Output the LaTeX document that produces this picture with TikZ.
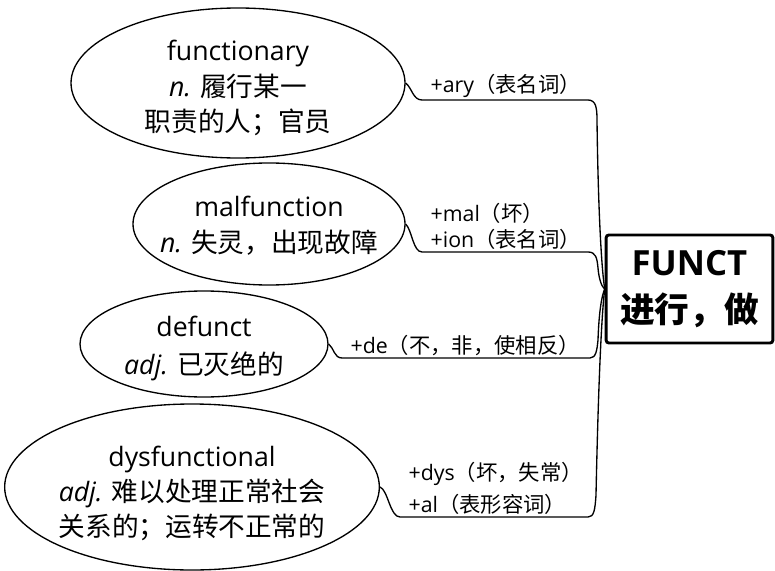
\documentclass[tikz,border=0pt]{standalone}
\usepackage{fontspec}
\setmainfont{Open Sans}
\newfontfamily\cjk{Noto Sans CJK SC}
\usetikzlibrary{shapes.geometric}

\begin{document}
\begin{tikzpicture}[x=0.75pt, y=-0.75pt]
    \tikzstyle{word} = [ellipse, draw, line width=1pt, inner xsep=-20pt, inner ysep=0pt, align=center, font=\fontsize{20}{26.5}\selectfont]
    \tikzstyle{line} = [draw, line width=1pt]
    \tikzstyle{affix} = [align=left, inner sep=1pt, xshift=5pt, font=\fontsize{16}{20}\selectfont]
    \useasboundingbox (0,0) rectangle (775,571);

    \node [rectangle, draw, line width=2.2pt, rounded corners=2pt, minimum width=125pt, minimum height=81pt, align=center, font=\fontsize{26}{35}\selectfont\bfseries] (root) at (689.5,289) {FUNCT\\{\cjk 进行，做}};

    \node [word, minimum width=250.5pt, minimum height=112.5pt] (functionary) at (238,83) {\rule{0pt}{23pt}functionary\\\textit{n.} {\cjk 履行某一}\\{\cjk 职责的人；官员}};
    \node [word, minimum width=204pt, minimum height=91.5pt] (malfunction) at (269,224) {\rule{0pt}{18pt}malfunction\\\textit{n.} {\cjk 失灵，出现故障}};
    \node [word, minimum width=186pt, minimum height=79.5pt] (defunct) at (204,344) {\rule{0pt}{22pt}defunct\\[2pt]\textit{adj.} {\cjk 已灭绝的}};
    \node [word, minimum width=281pt, minimum height=124.5pt] (dysfunctional) at (192,487) {\rule{0pt}{25pt}dysfunctional\\\textit{adj.} {\cjk 难以处理正常社会}\\{\cjk 关系的；运转不正常的}};

    % affix branches
    \path [line] (functionary.east) .. controls (412,88) and (413,100) .. (422,100)
        -- node [affix, above right, pos=0] (ary) {+ary{\cjk （表名词）}} (588,100)
        .. controls (596,100) and (597,108) .. (597,120)
        .. controls (598,200) and (601,265) .. (root.west);
    \path [line] (malfunction.east) .. controls (412,230) and (413,252) .. (422,252)
        -- node [affix, above right, pos=0] (malion) {+mal{\cjk （坏）}\\+ion{\cjk （表名词）}} (588,252)
        .. controls (596,252) and (597,258) .. (598,268)
        .. controls (599,280) and (602,287) .. (root.west);
    \path [line] (defunct.east) .. controls (334,348) and (334,358) .. (342,358)
        -- node [affix, above right, pos=0] (de) {+de{\cjk （不，非，使相反）}} (590,358)
        .. controls (596,358) and (597,350) .. (598,340)
        .. controls (599,310) and (602,295) .. (root.west);
    \path [line] (dysfunctional.east) .. controls (388,490) and (390,517) .. (400,517)
        -- node [affix, above right, pos=0] (dysal) {+dys{\cjk （坏，失常）}\\[4pt]+al{\cjk （表形容词）}} (588,517)
        .. controls (594,517) and (595,510) .. (596,495)
        .. controls (598,400) and (601,320) .. (root.west);
\end{tikzpicture}
\end{document}
